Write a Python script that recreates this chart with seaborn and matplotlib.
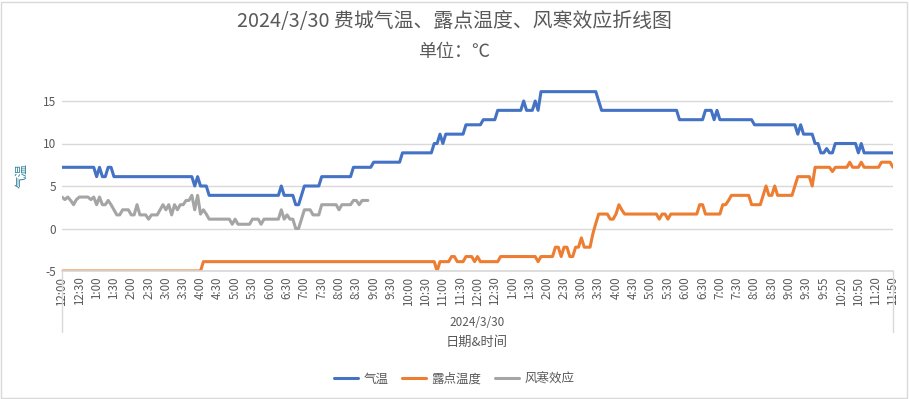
import numpy as np
import pandas as pd
import matplotlib
matplotlib.use("Agg")
import matplotlib.pyplot as plt
from matplotlib.lines import Line2D
from matplotlib.patches import Rectangle
import seaborn as sns

# x axis labels (every 6th reading)
tick_labels = ['12:00', '12:30', '1:00', '1:30', '2:00', '2:30', '3:00', '3:30', '4:00', '4:30',
               '5:00', '5:30', '6:00', '6:30', '7:00', '7:30', '8:00', '8:30', '9:00', '9:30',
               '10:00', '10:30', '11:00', '11:30',
               '12:00', '12:30', '1:00', '1:30', '2:00', '2:30', '3:00', '3:30', '4:00', '4:30',
               '5:00', '5:30', '6:00', '6:30', '7:00', '7:30', '8:00', '8:30', '9:00', '9:30',
               '9:55', '10:20', '10:50', '11:20', '11:50']

# 气温 (°C)
temp = ([7.2] * 12 + [6.1, 7.2, 6.1, 6.1, 7.2, 7.2] + [6.1] * 28 + [5.0, 6.1, 5.0, 5.0, 5.0]
        + [3.9] * 25 + [5.0] + [3.9] * 4 + [2.8, 2.8, 3.9] + [5.0] * 6 + [6.1] * 11
        + [7.2] * 7 + [7.8] * 10 + [8.9] * 11 + [10.0] * 2 + [11.1, 10.0] + [11.1] * 7
        + [12.2] * 6 + [12.8] * 5 + [13.9] * 9 + [15.0, 13.9, 13.9, 13.9, 15.0, 13.9]
        + [16.1] * 20 + [15.0] + [13.9] * 27 + [12.8] * 9 + [13.9, 13.9, 13.9, 12.8, 13.9, 12.8]
        + [12.8] * 11 + [12.2] * 15 + [11.1, 12.2] + [11.1] * 4 + [10.0] * 2
        + [8.9, 8.9, 9.4, 8.9, 8.9] + [10.0] * 8 + [8.9, 10.0, 8.9] + [8.9] * 10)

# 露点温度 (°C)
dew = ([-5.0] * 49 + [-3.9] * 81 + [-5.0] + [-3.9] * 4 + [-3.3] * 2 + [-3.9] * 3 + [-3.3] * 3
       + [-3.9, -3.3] + [-3.9] * 7 + [-3.3] * 13 + [-3.9] + [-3.3] * 5
       + [-2.2, -2.2, -3.3, -2.2, -2.2, -3.3, -3.3, -2.2, -2.2, -1.1, -2.2, -2.2, -2.2]
       + [-0.6, 0.6] + [1.7] * 4 + [1.1, 1.1, 1.7, 2.8, 2.2] + [1.7] * 11
       + [1.7, 1.1, 1.7, 1.7, 1.1] + [1.7] * 10 + [2.8] * 2 + [1.7] * 6 + [2.8, 2.8, 3.3]
       + [3.9] * 7 + [2.8] * 4 + [3.9, 5.0, 3.9, 3.9, 5.0, 3.9] + [3.9] * 5 + [5.0]
       + [6.1] * 5 + [5.0] + [7.2] * 6 + [6.7] + [7.2] * 5 + [7.8] + [7.2] * 3 + [7.8]
       + [7.2] * 6 + [7.8] * 4 + [7.2])

# 风寒效应 (°C), only recorded until about 9:00
chill = [3.7, 3.4, 3.7, 3.3, 2.8, 3.4, 3.7, 3.7, 3.7, 3.7,
         3.4, 3.7, 2.8, 3.7, 2.8, 2.8, 3.3, 2.8, 2.2, 1.6,
         1.6, 2.2, 2.2, 2.2, 1.6, 1.6, 2.8, 1.6, 1.6, 1.6,
         1.1, 1.6, 1.6, 1.6, 2.2, 2.8, 2.2, 2.8, 1.6, 2.8,
         2.2, 2.8, 2.8, 3.3, 3.3, 3.9, 2.2, 3.9, 1.7, 2.2,
         1.7, 1.1, 1.1, 1.1, 1.1, 1.1, 1.1, 1.1, 1.1, 0.5,
         1.1, 0.5, 0.5, 0.5, 0.5, 0.5, 1.1, 1.1, 1.1, 0.5,
         1.1, 1.1, 1.1, 1.1, 1.1, 1.1, 2.2, 1.1, 1.6, 1.1,
         1.1, 0.0, 0.0, 1.1, 2.2, 2.2, 2.2, 1.6, 1.6, 1.6,
         2.8, 2.8, 2.8, 2.8, 2.8, 2.8, 2.2, 2.8, 2.8, 2.8,
         2.8, 3.3, 3.3, 2.8, 3.3, 3.3, 3.3]

n = len(temp)
idx = np.arange(n)
chill_full = chill + [np.nan] * (n - len(chill))

df = pd.DataFrame({'idx': np.concatenate([idx, idx, idx]),
                   'value': temp + dew + chill_full,
                   'series': ['气温'] * n + ['露点温度'] * n + ['风寒效应'] * n})

sns.set_theme(style="white")
plt.rcParams['font.family'] = ['Noto Sans CJK SC', 'DejaVu Sans']
plt.rcParams['axes.unicode_minus'] = False

fig = plt.figure(figsize=(9.09, 3.99), dpi=100)
ax = fig.add_axes([62 / 909, 1 - 271 / 399, (893 - 62) / 909, (271 - 79.75) / 399])

sns.lineplot(data=df, x='idx', y='value', hue='series', ax=ax, estimator=None,
             palette={'气温': '#4472C4', '露点温度': '#ED7D31', '风寒效应': '#A5A5A5'},
             linewidth=2.2)

text_c = '#595959'
grid_c = '#D9D9D9'

ax.set_xlim(0, n - 1)
ax.set_ylim(-5, 17.5)
ax.set_yticks([-5, 0, 5, 10, 15])
ax.set_yticklabels(['-5', '0', '5', '10', '15'], fontsize=8.5, color=text_c)
ax.set_xticks(np.arange(0, n, 6))
ax.set_xticklabels(tick_labels, rotation=90, fontsize=8.3, color=text_c)
ax.tick_params(axis='both', length=0, pad=4)
ax.yaxis.grid(True, color=grid_c, linewidth=1)
for s in ['top', 'right', 'left']:
    ax.spines[s].set_visible(False)
ax.spines['bottom'].set_color(grid_c)
ax.set_xlabel('')
ax.set_ylabel('')

# legend below the chart
handles, labels = ax.get_legend_handles_labels()
ax.get_legend().remove()
fig.legend(handles, labels, loc='center', bbox_to_anchor=(0.5, 1 - 379 / 399), ncol=3,
           frameon=False, fontsize=9, handlelength=1.9, handletextpad=0.45,
           columnspacing=1.1, labelcolor=text_c)

# titles and axis texts
fig.text(0.5, 1 - 21 / 399, '2024/3/30 费城气温、露点温度、风寒效应折线图',
         ha='center', va='center', fontsize=14.3, color=text_c)
fig.text(0.5, 1 - 52 / 399, '单位：℃', ha='center', va='center', fontsize=13, color=text_c)
fig.text(22 / 909, 1 - 175 / 399, '气温', rotation=90, ha='center', va='center',
         fontsize=9, color='#31849B')
fig.text(477 / 909, 1 - 323 / 399, '2024/3/30', ha='center', va='center', fontsize=8.5,
         color=text_c)
fig.text(477 / 909, 1 - 342 / 399, '日期&时间', ha='center', va='center', fontsize=9.5,
         color=text_c)

# category axis box lines
for xp in [62, 893]:
    fig.add_artist(Line2D([xp / 909, xp / 909], [1 - 271 / 399, 1 - 332 / 399],
                          color=grid_c, linewidth=1))
fig.add_artist(Rectangle((1 / 909, 1 / 399), 906 / 909, 396 / 399, fill=False,
                         edgecolor=grid_c, linewidth=1))

fig.savefig('out.png', dpi=100, facecolor='white')
plt.close()
